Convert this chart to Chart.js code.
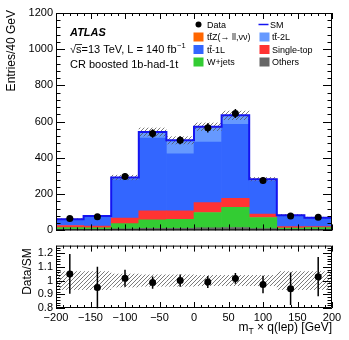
<!DOCTYPE html>
<html>
<head>
<meta charset="utf-8">
<script src="https://cdn.jsdelivr.net/npm/chart.js@4/dist/chart.umd.min.js"></script>
<style>
body{margin:0;background:#fff;width:349px;height:340px;position:relative;overflow:hidden}
canvas{position:absolute;left:0}
#top{top:0}
#ratio{top:236px}
</style>
</head>
<body>
<canvas id="top" width="349" height="240"></canvas>
<canvas id="ratio" width="349" height="104"></canvas>
<script>
// bins of mT x q(lep), 40 GeV wide
const binCenters = [-180, -140, -100, -60, -20, 20, 60, 100, 140, 180]
const binWidth = 40

// background stack, bottom to top
const others    = [6, 6, 8, 12, 12, 14, 16, 10, 6, 6]
const wjets     = [9, 8, 29, 47, 49, 85, 112, 61, 7, 9]
const singleTop = [12, 10, 31, 49, 47, 54, 49, 19, 8, 6]
const tt1L      = [31, 50, 213, 401, 315, 334, 408, 182, 58, 45]
const tt2L      = [3, 4, 8, 30, 70, 80, 45, 8, 4, 3]
const ttZ       = [1, 1, 3, 4, 4, 5, 5, 3, 1, 1]

const data    = [65, 75, 297, 535, 497, 566, 645, 275, 79, 72]
const dataErr = [9, 12, 18, 24, 22, 25, 25, 18, 10, 10]
// relative systematic uncertainty on SM
const syst    = [0.068, 0.068, 0.05, 0.044, 0.044, 0.04, 0.04, 0.04, 0.068, 0.068]

const yTicksTop = [0, 200, 400, 600, 800, 1000, 1200]
const yTicksRatio = [0.8, 0.9, 1, 1.1, 1.2]
const xTicks = [-200, -150, -100, -50, 0, 50, 100, 150, 200]

const FONT = "'Liberation Sans', Arial, Helvetica, sans-serif"
Chart.defaults.font.family = FONT
Chart.defaults.color = '#000'

const sm = binCenters.map((c, i) => others[i] + wjets[i] + singleTop[i] + tt1L[i] + tt2L[i] + ttZ[i])
const ratio = data.map((d, i) => d / sm[i])
const ratioErr = dataErr.map((e, i) => e / sm[i])

function stepPts(vals){
    const pts = binCenters.map((c, i) => ({x: c - binWidth/2, y: vals[i]}))
    pts.push({x: binCenters[binCenters.length-1] + binWidth/2, y: vals[vals.length-1]})
    return pts
}

function barSet(label, vals, color){
    return {
        type:'bar', label:label,
        data: binCenters.map((c, i) => ({x:c, y:vals[i]})),
        backgroundColor: color, borderWidth:0,
        stack:'bkg', order:10,
        barPercentage:1, categoryPercentage:1
    }
}

// uncertainty band as floating bars, hatched by the plugin below
function bandSet(lo, hi){
    return {
        type:'bar', hatch:true,
        data: binCenters.map((c, i) => ({x:c, y:[lo[i], hi[i]]})),
        backgroundColor:'rgba(0,0,0,0)', borderWidth:0, grouped:false, order:2,
        barPercentage:1, categoryPercentage:1
    }
}

// draws //// lines inside each bar of datasets flagged hatch (segments cut to the bar, no clip)
const hatchPlugin = {
    id:'hatchBand',
    afterDatasetDraw(chart, args){
        if (!chart.data.datasets[args.index].hatch) return
        const ctx = chart.ctx
        ctx.save()
        ctx.strokeStyle = '#555'
        ctx.lineWidth = 0.8
        ctx.beginPath()
        args.meta.data.forEach(bar => {
            const p = bar.getProps(['x', 'y', 'base', 'width'], true)
            const l = p.x - p.width/2, r = p.x + p.width/2
            const t = Math.min(p.y, p.base), b = Math.max(p.y, p.base)
            for (let c = Math.ceil((l + t)/4)*4; c <= r + b; c += 4){
                const xa = Math.max(l, c - b), xb = Math.min(r, c - t)
                if (xb <= xa) continue
                ctx.moveTo(xa, c - xa)
                ctx.lineTo(xb, c - xb)
            }
        })
        ctx.stroke()
        ctx.restore()
    }
}

// ticks + frame in ROOT style
function frameTicks(o){
    return {
        id:'frameTicks',
        afterDraw(chart){
            const {ctx, chartArea:a, scales:{x, y}} = chart
            ctx.save()
            ctx.strokeStyle = '#000'
            ctx.lineWidth = 1
            ctx.beginPath()
            for (let k = 0; k < 200; k++){
                const v = x.min + k*o.xMinor
                if (v > x.max + 1e-9) break
                const px = Math.round(x.getPixelForValue(v)) + 0.5
                const major = Math.abs(v/o.xMajor - Math.round(v/o.xMajor)) < 1e-6
                const L = major ? o.xLen : o.xLen/2
                ctx.moveTo(px, a.bottom); ctx.lineTo(px, a.bottom - L)
                ctx.moveTo(px, a.top); ctx.lineTo(px, a.top + L)
            }
            for (let k = 0; k < 200; k++){
                const v = y.min + k*o.yMinor
                if (v > y.max + 1e-9) break
                const py = Math.round(y.getPixelForValue(v)) + 0.5
                const major = Math.abs((v - o.yBase)/o.yMajor - Math.round((v - o.yBase)/o.yMajor)) < 1e-6
                const L = major ? o.yLen : o.yLen/2
                ctx.moveTo(a.left, py); ctx.lineTo(a.left + L, py)
                ctx.moveTo(a.right, py); ctx.lineTo(a.right - L, py)
            }
            const l = a.left + 0.5, r = a.right - 0.5, t = a.top + 0.5, b = a.bottom - 0.5
            ctx.moveTo(l, t); ctx.lineTo(r, t); ctx.lineTo(r, b); ctx.lineTo(l, b); ctx.lineTo(l, t)
            ctx.stroke()
            ctx.restore()
        }
    }
}

// vertical error bars on the data points
function errBars(dsIndex, errs){
    return {
        id:'errBars',
        afterDatasetsDraw(chart){
            const {ctx, scales:{y}} = chart
            const meta = chart.getDatasetMeta(dsIndex)
            ctx.save()
            ctx.strokeStyle = '#000'
            ctx.lineWidth = 1.5
            ctx.beginPath()
            meta.data.forEach((pt, i) => {
                const v = chart.data.datasets[dsIndex].data[i].y
                ctx.moveTo(pt.x, y.getPixelForValue(v - errs[i]))
                ctx.lineTo(pt.x, y.getPixelForValue(v + errs[i]))
            })
            ctx.stroke()
            ctx.restore()
        }
    }
}

function ttbar(ctx, x, y, rest, size){
    const w = ctx.measureText('t').width
    ctx.fillText('t', x, y)
    ctx.fillText('t', x + w, y)
    ctx.fillRect(x + w, y - size*0.82, w, 0.8)
    ctx.fillText(rest, x + 2*w, y)
}

const colOthers = '#666666'
const colW = '#33cc33'
const colST = '#ff3333'
const colTT1 = '#3366ff'
const colTT2 = '#6699ff'
const colTTZ = '#ff6600'
const colSM = '#1414f0'

const labelsTop = {
    id:'labelsTop',
    afterDraw(chart){
        const ctx = chart.ctx
        ctx.save()
        ctx.fillStyle = '#000'
        ctx.textAlign = 'left'
        ctx.textBaseline = 'alphabetic'
        ctx.font = 'italic bold 11px ' + FONT
        ctx.fillText('ATLAS', 70, 36)
        ctx.font = '11px ' + FONT
        let x = 70
        ctx.fillText('\u221A', x, 53)
        x += ctx.measureText('\u221A').width
        const ws = ctx.measureText('s').width
        ctx.fillText('s', x, 53)
        ctx.fillRect(x - 0.5, 44, ws + 1, 0.8)
        x += ws
        const t1 = '=13 TeV, L = 140 fb'
        ctx.fillText(t1, x, 53)
        x += ctx.measureText(t1).width
        ctx.font = '7.5px ' + FONT
        ctx.fillText('\u22121', x + 0.5, 48)
        ctx.font = '11px ' + FONT
        ctx.fillText('CR boosted 1b-had-1t', 70, 68)

        // legend
        const rows = [24.5, 37, 49.5, 62]
        const c1 = 193.5, c2 = 259.5, tx1 = 207, tx2 = 272
        ctx.font = '9px ' + FONT
        // Data
        ctx.beginPath(); ctx.arc(c1 + 5, rows[0], 3, 0, Math.PI*2); ctx.fill()
        ctx.fillText('Data', tx1, rows[0] + 3.3)
        // SM
        ctx.strokeStyle = colSM; ctx.lineWidth = 1.5
        ctx.beginPath(); ctx.moveTo(c2 - 1, rows[0]); ctx.lineTo(c2 + 9, rows[0]); ctx.stroke()
        ctx.fillText('SM', tx2 - 2, rows[0] + 3.3)
        const boxes = [
            [c1, rows[1], colTTZ], [c2, rows[1], colTT2],
            [c1, rows[2], colTT1], [c2, rows[2], colST],
            [c1, rows[3], colW], [c2, rows[3], colOthers]
        ]
        boxes.forEach(b => { ctx.fillStyle = b[2]; ctx.fillRect(b[0], b[1] - 4.5, 10, 9) })
        ctx.fillStyle = '#000'
        ttbar(ctx, tx1, rows[1] + 3.3, 'Z(\u2192 ll,\u03BD\u03BD)', 9)
        ttbar(ctx, tx2, rows[1] + 3.3, '-2L', 9)
        ttbar(ctx, tx1, rows[2] + 3.3, '-1L', 9)
        ctx.fillText('Single-top', tx2, rows[2] + 3.3)
        ctx.fillText('W+jets', tx1, rows[3] + 3.3)
        ctx.fillText('Others', tx2, rows[3] + 3.3)

        // y title
        ctx.font = '12px ' + FONT
        ctx.translate(12, 10)
        ctx.rotate(-Math.PI/2)
        ctx.textAlign = 'right'
        ctx.textBaseline = 'middle'
        ctx.fillText('Entries/40 GeV', 0, 0)
        ctx.restore()
    }
}

const labelsRatio = {
    id:'labelsRatio',
    afterDraw(chart){
        const ctx = chart.ctx
        ctx.save()
        ctx.fillStyle = '#000'
        // x title, right aligned
        const big = '12px ' + FONT, small = '8.5px ' + FONT
        const rest = ' \u00D7 q(lep) [GeV]'
        ctx.font = big
        const wm = ctx.measureText('m').width, wr = ctx.measureText(rest).width
        ctx.font = small
        const wt = ctx.measureText('T').width
        let x = chart.chartArea.right - (wm + wt + wr)
        const yb = 95
        ctx.font = big; ctx.fillText('m', x, yb); x += wm
        ctx.font = small; ctx.fillText('T', x, yb + 3); x += wt
        ctx.font = big; ctx.fillText(rest, x, yb)
        // y title
        ctx.translate(28, 35.5)
        ctx.rotate(-Math.PI/2)
        ctx.textAlign = 'center'
        ctx.textBaseline = 'middle'
        ctx.fillText('Data/SM', 0, 0)
        ctx.restore()
    }
}

const smUp = sm.map((v, i) => v*(1 + syst[i]))
const smDn = sm.map((v, i) => v*(1 - syst[i]))

const graficaTop = new Chart(document.getElementById('top'), {
    type:'bar',
    data:{
        datasets:[
            barSet('Others', others, colOthers),
            barSet('W+jets', wjets, colW),
            barSet('Single-top', singleTop, colST),
            barSet('tt-1L', tt1L, colTT1),
            barSet('tt-2L', tt2L, colTT2),
            barSet('ttZ', ttZ, colTTZ),
            bandSet(smDn, smUp),
            {type:'line', data:stepPts(sm), stepped:'before', pointRadius:0, borderWidth:2, borderColor:colSM, fill:false, order:1},
            {type:'line', data:binCenters.map((c, i) => ({x:c, y:data[i]})), showLine:false, pointRadius:3.5,
             pointBackgroundColor:'#000', pointBorderWidth:0, order:0}
        ]
    },
    options:{
        responsive:false, animation:false, devicePixelRatio:1,
        layout:{padding:{top:13, right:17, bottom:8, left:0}},
        plugins:{legend:{display:false}, tooltip:{enabled:false}},
        scales:{
            x:{type:'linear', min:-200, max:200, offset:false, display:false},
            y:{min:0, max:1200,
               afterBuildTicks: s => { s.ticks = yTicksTop.map(v => ({value:v})) },
               afterFit: s => { s.width = 56 },
               grid:{display:false, drawTicks:false}, border:{display:false},
               ticks:{font:{size:11}, padding:3, color:'#000', autoSkip:false, callback: v => String(v)}}
        }
    },
    plugins:[hatchPlugin, frameTicks({xMinor:10, xMajor:50, xLen:6, yMinor:40, yMajor:200, yBase:0, yLen:9}), errBars(8, dataErr), labelsTop]
})

const graficaRatio = new Chart(document.getElementById('ratio'), {
    type:'bar',
    data:{
        datasets:[
            bandSet(syst.map(s => 1 - s), syst.map(s => 1 + s)),
            {type:'line', data:binCenters.map((c, i) => ({x:c, y:ratio[i]})), showLine:false, pointRadius:3.5,
             pointBackgroundColor:'#000', pointBorderWidth:0, order:0}
        ]
    },
    options:{
        responsive:false, animation:false, devicePixelRatio:1,
        layout:{padding:{top:7, right:17, bottom:0, left:0}},
        plugins:{legend:{display:false}, tooltip:{enabled:false}},
        scales:{
            x:{type:'linear', min:-200, max:200, offset:false,
               afterBuildTicks: s => { s.ticks = xTicks.map(v => ({value:v})) },
               afterFit: s => { s.height = 32 },
               grid:{display:false, drawTicks:false, offset:false}, border:{display:false},
               ticks:{font:{size:11}, padding:3, maxRotation:0, autoSkip:false, color:'#000',
                      callback: v => v < 0 ? '\u2212' + (-v) : String(v)}},
            y:{min:0.8, max:1.255,
               afterBuildTicks: s => { s.ticks = yTicksRatio.map(v => ({value:v})) },
               afterFit: s => { s.width = 56 },
               grid:{display:false, drawTicks:false}, border:{display:false},
               ticks:{font:{size:11}, padding:3, color:'#000', autoSkip:false, callback: v => String(v)}}
        }
    },
    plugins:[hatchPlugin, frameTicks({xMinor:10, xMajor:50, xLen:6, yMinor:0.02, yMajor:0.1, yBase:0.8, yLen:9}), errBars(1, ratioErr), labelsRatio]
})
</script>
</body>
</html>
